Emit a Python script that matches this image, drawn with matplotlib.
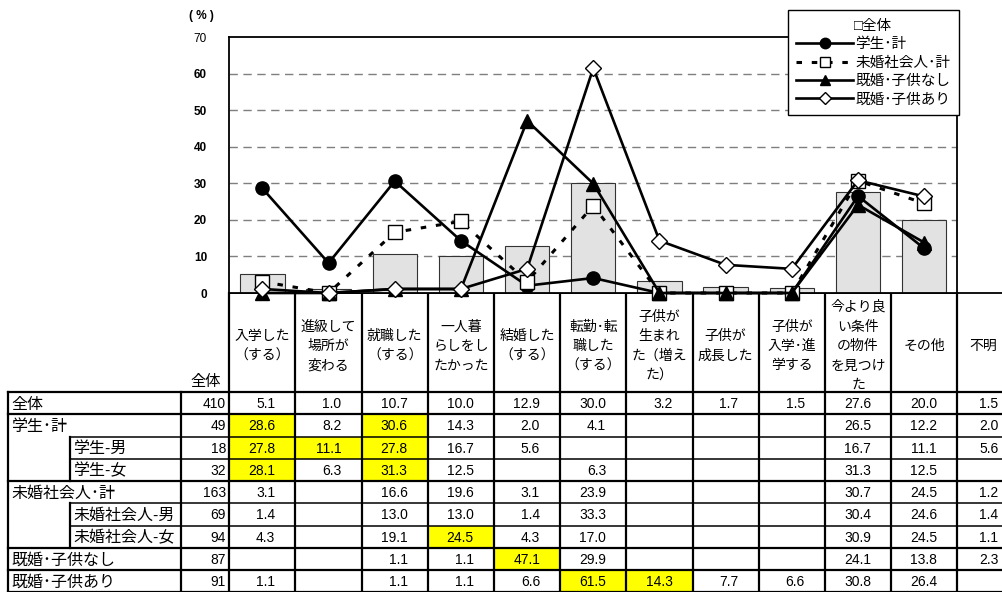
import matplotlib

matplotlib.use("Agg")
import matplotlib.pyplot as plt
from matplotlib.lines import Line2D
from matplotlib.patches import Rectangle

plt.rcParams["font.family"] = ["Liberation Sans", "Noto Sans CJK JP"]

# ---- data
headers = [
    "入学した\n（する）",
    "進級して\n場所が\n変わる",
    "就職した\n（する）",
    "一人暮\nらしをし\nたかった",
    "結婚した\n（する）",
    "転勤･転\n職した\n（する）",
    "子供が\n生まれ\nた（増え\nた）",
    "子供が\n成長した",
    "子供が\n入学･進\n学する",
    "今より良\nい条件\nの物件\nを見つけ\nた",
    "その他",
    "不明",
]

row_labels = ["全体", "学生･計", "学生-男", "学生-女", "未婚社会人･計",
              "未婚社会人-男", "未婚社会人-女", "既婚･子供なし", "既婚･子供あり"]
row_is_sub = [False, False, True, True, False, True, True, False, False]
row_n = [410, 49, 18, 32, 163, 69, 94, 87, 91]

# None = blank cell
t_all = [5.1, 1.0, 10.7, 10.0, 12.9, 30.0, 3.2, 1.7, 1.5, 27.6, 20.0, 1.5]
t_stu = [28.6, 8.2, 30.6, 14.3, 2.0, 4.1, None, None, None, 26.5, 12.2, 2.0]
t_stu_m = [27.8, 11.1, 27.8, 16.7, 5.6, None, None, None, None, 16.7, 11.1, 5.6]
t_stu_f = [28.1, 6.3, 31.3, 12.5, None, 6.3, None, None, None, 31.3, 12.5, None]
t_single = [3.1, None, 16.6, 19.6, 3.1, 23.9, None, None, None, 30.7, 24.5, 1.2]
t_single_m = [1.4, None, 13.0, 13.0, 1.4, 33.3, None, None, None, 30.4, 24.6, 1.4]
t_single_f = [4.3, None, 19.1, 24.5, 4.3, 17.0, None, None, None, 30.9, 24.5, 1.1]
t_mar_nokid = [None, None, 1.1, 1.1, 47.1, 29.9, None, None, None, 24.1, 13.8, 2.3]
t_mar_kid = [1.1, None, 1.1, 1.1, 6.6, 61.5, 14.3, 7.7, 6.6, 30.8, 26.4, None]
table_rows = [t_all, t_stu, t_stu_m, t_stu_f, t_single, t_single_m,
              t_single_f, t_mar_nokid, t_mar_kid]

# highlighted cells (row index, column index)
highlight = [(1, 0), (1, 2), (2, 0), (2, 1), (2, 2), (3, 0), (3, 2),
             (6, 3), (7, 4), (8, 5), (8, 6)]

n_chart = 11  # chart leaves out 不明


def series(row):
    return [0.0 if v is None else v for v in row[:n_chart]]


# ---- figure
W, H = 1002, 592
fig = plt.figure(figsize=(W / 100, H / 100), dpi=100)

x0, x1, ytop, ybot = 229.3, 957.3, 37, 293
col_w = (x1 - x0) / n_chart

ax = fig.add_axes([x0 / W, 1 - ybot / H, (x1 - x0) / W, (ybot - ytop) / H],
                  zorder=2)
xs = list(range(n_chart))
ax.bar(xs, t_all[:n_chart], width=0.67, color="#e2e2e2",
       edgecolor="#333333", linewidth=0.8, zorder=2)

lw = 1.9
ax.plot(xs, series(t_stu), color="black", lw=lw, marker="o", ms=9.5,
        mfc="black", mec="black", clip_on=False, zorder=3)
ax.plot(xs, series(t_single), color="black", lw=2.2, ls=(0, (1.8, 3.2)),
        marker="s", ms=9.5, mfc="white", mec="black", mew=1,
        clip_on=False, zorder=4)
ax.plot(xs, series(t_mar_nokid), color="black", lw=lw, marker="^", ms=9.5,
        mfc="black", mec="black", clip_on=False, zorder=5)
ax.plot(xs, series(t_mar_kid), color="black", lw=lw, marker="D", ms=8.5,
        mfc="white", mec="black", mew=1, clip_on=False, zorder=6)

ax.set_xlim(-0.5, n_chart - 0.5)
ax.set_ylim(0, 70)
ax.set_yticks(range(0, 71, 10))
ax.set_yticklabels([str(v) for v in range(0, 71, 10)], fontsize=8.5)
for t in ax.get_yticklabels()[:-1]:
    t.set_fontweight("bold")
ax.tick_params(axis="y", length=0, pad=16)
ax.set_xticks([])
for y in range(10, 70, 10):
    ax.axhline(y, color="#7f7f7f", lw=1, ls=(0, (6, 4)), zorder=1)
for s in ax.spines.values():
    s.set_linewidth(1.3)
fig.text(201 / W, 1 - 16 / H, "( % )", fontsize=8.5, fontweight="bold",
         ha="center", va="center")

handles = [
    Line2D([], [], color="black", lw=lw, marker="o", ms=7.5, mfc="black"),
    Line2D([], [], color="black", lw=2.2, ls=(0, (1.8, 3.2)), marker="s",
           ms=7.5, mfc="white", mew=1),
    Line2D([], [], color="black", lw=lw, marker="^", ms=7.5, mfc="black"),
    Line2D([], [], color="black", lw=lw, marker="D", ms=6, mfc="white",
           mew=1),
]
leg = fig.legend(handles, ["学生･計", "未婚社会人･計", "既婚･子供なし", "既婚･子供あり"],
                 title="□全体", loc="upper left",
                 bbox_to_anchor=(787.7 / W, 1 - 10.3 / H), borderaxespad=0,
                 fontsize=10.5, title_fontsize=10.5, handlelength=3.9,
                 handletextpad=0.15, labelspacing=0.3, borderpad=0.6,
                 fancybox=False, edgecolor="black", framealpha=1,
                 numpoints=1)
leg.get_frame().set_linewidth(1)
leg.set_zorder(10)

# ---- table, drawn in pixel coordinates on an overlay axes
tx = fig.add_axes([0, 0, 1, 1], zorder=1)
tx.set_xlim(0, W)
tx.set_ylim(H, 0)
tx.axis("off")

left, sub_left, n_left = 8, 70, 181
row_top = 392
row_h = 22.25
col_lefts = [x0 + col_w * k for k in range(len(headers))]
tab_right = W + 5
thick, thin = 1.6, 1.1

# header
tx.plot([x0, tab_right], [ybot, ybot], color="black", lw=1.3)
for k, h in enumerate(headers):
    xc = col_lefts[k] + col_w / 2
    if k == len(headers) - 1:
        xc = 983  # last column is cut by the picture edge
    tx.text(xc, (ybot + row_top) / 2 + 3.5, h,
            ha="center", va="center", fontsize=10, linespacing=1.5)
tx.text(221, 382, "全体", ha="right", va="center", fontsize=11)

# yellow cells
for r, c in highlight:
    tx.add_patch(Rectangle((col_lefts[c], row_top + r * row_h), col_w, row_h,
                           facecolor="#ffff00", edgecolor="none", zorder=0))

# rows
for r, lab in enumerate(row_labels):
    yc = row_top + (r + 0.5) * row_h
    tx.text(73 if row_is_sub[r] else 11, yc + 1, lab, ha="left",
            va="center", fontsize=11.5)
    tx.text(226, yc + 1, str(row_n[r]), ha="right", va="center", fontsize=10)
    for c, v in enumerate(table_rows[r]):
        if v is None:
            continue
        off = 41 if c == len(headers) - 1 else 46
        tx.text(col_lefts[c] + off, yc + 1, f"{v:.1f}", ha="right",
                va="center", fontsize=10)

# horizontal rules
for r in range(len(row_labels) + 1):
    y = row_top + r * row_h
    nxt_sub = r < len(row_labels) and row_is_sub[r]
    if nxt_sub:
        tx.plot([sub_left, tab_right], [y, y], color="black", lw=thin)
    else:
        tx.plot([left, tab_right], [y, y], color="black", lw=thick)

# vertical rules
y_end = row_top + len(row_labels) * row_h
tx.plot([left, left], [row_top, y_end], color="black", lw=thick)
tx.plot([n_left, n_left], [row_top, y_end], color="black", lw=thick)
for k in range(len(headers) + 1):
    xl = x0 + col_w * k
    tx.plot([xl, xl], [ybot, y_end], color="black", lw=thick)
r = 0
while r < len(row_labels):
    if row_is_sub[r]:
        r0 = r
        while r < len(row_labels) and row_is_sub[r]:
            r += 1
        tx.plot([sub_left, sub_left],
                [row_top + r0 * row_h, row_top + r * row_h],
                color="black", lw=thick)
    else:
        r += 1

fig.savefig("out.png", dpi=100)
